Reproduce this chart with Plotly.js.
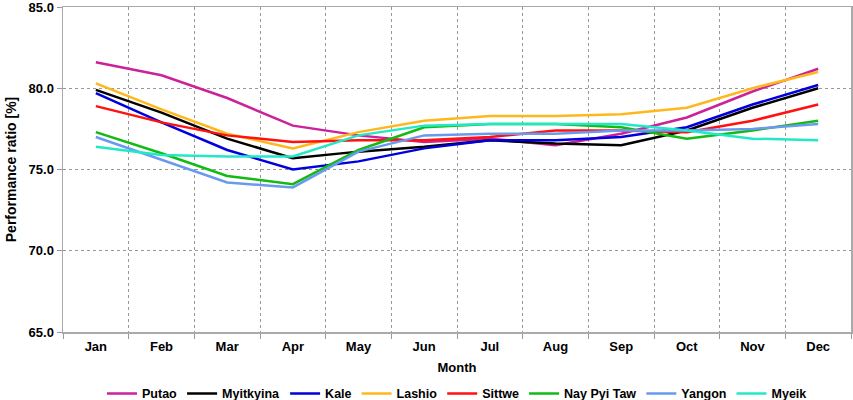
<!DOCTYPE html>
<html>
<head>
<meta charset="utf-8">
<script src="https://cdn.plot.ly/plotly-3.0.1.min.js"></script>
<style>
  html, body { margin: 0; padding: 0; background: #fff; }
  #chart { width: 853px; height: 400px; }
</style>
</head>
<body>
<div id="chart"></div>
<script>
var months = ["Jan", "Feb", "Mar", "Apr", "May", "Jun", "Jul", "Aug", "Sep", "Oct", "Nov", "Dec"];

var putao     = [81.6, 80.8, 79.4, 77.7, 77.1, 76.7, 76.9, 76.5, 77.2, 78.2, 79.8, 81.2];
var myitkyina = [79.9, 78.5, 76.9, 75.7, 76.1, 76.4, 76.8, 76.6, 76.5, 77.4, 78.8, 80.0];
var kale      = [79.7, 77.9, 76.2, 75.0, 75.5, 76.3, 76.8, 76.8, 77.0, 77.6, 79.0, 80.2];
var lashio    = [80.3, 78.7, 77.2, 76.3, 77.3, 78.0, 78.3, 78.3, 78.4, 78.8, 80.0, 81.0];
var sittwe    = [78.9, 77.9, 77.1, 76.7, 76.8, 76.8, 77.0, 77.4, 77.4, 77.3, 78.0, 79.0];
var naypyitaw = [77.3, 76.0, 74.6, 74.1, 76.2, 77.6, 77.8, 77.8, 77.6, 76.9, 77.4, 78.0];
var yangon    = [77.0, 75.6, 74.2, 73.9, 76.1, 77.1, 77.2, 77.2, 77.4, 77.4, 77.5, 77.8];
var myeik     = [76.4, 75.9, 75.8, 75.8, 77.1, 77.7, 77.8, 77.8, 77.8, 77.4, 76.9, 76.8];

var names  = ["Putao", "Myitkyina", "Kale", "Lashio", "Sittwe", "Nay Pyi Taw", "Yangon", "Myeik"];
var series = [putao, myitkyina, kale, lashio, sittwe, naypyitaw, yangon, myeik];
var colors = ["#CC2299", "#000000", "#0000DD", "#FFB81C", "#FF1111", "#11BB11", "#6A9AEE", "#22E8C8"];

var traces = [];
for (var i = 0; i < series.length; i++) {
  traces.push({
    x: months,
    y: series[i],
    name: names[i],
    type: "scatter",
    mode: "lines",
    line: { color: colors[i], width: 2.5 }
  });
}

var fam = "Liberation Sans, Arial, sans-serif";
var tickFont = { family: fam, size: 13, color: "#000", weight: "bold" };
var legFont = { family: fam, size: 12.5, color: "#000", weight: "bold" };

var layout = {
  width: 853,
  height: 400,
  margin: { l: 63, r: 2, t: 7, b: 68, autoexpand: false },
  paper_bgcolor: "#fff",
  plot_bgcolor: "#fff",
  font: tickFont,
  showlegend: true,
  legend: {
    orientation: "h",
    x: 0.5,
    xanchor: "center",
    y: -0.19,
    yanchor: "middle",
    font: legFont,
    itemwidth: 30,
    tracegroupgap: 0
  },
  xaxis: {
    type: "category",
    range: [-0.5, 11.5],
    automargin: false,
    tickson: "boundaries",
    ticks: "outside",
    ticklen: 5,
    tickcolor: "#999",
    ticklabelstandoff: 2,
    showgrid: true,
    gridcolor: "#999",
    griddash: "3px,3px",
    gridwidth: 1,
    showline: true,
    linecolor: "#aaa",
    linewidth: 1.5,
    mirror: true,
    tickfont: tickFont,
    title: { text: "Month", font: tickFont, standoff: 10 }
  },
  yaxis: {
    range: [65, 85],
    automargin: false,
    dtick: 5,
    tick0: 65,
    tickformat: ".1f",
    ticklabeloverflow: "allow",
    ticks: "outside",
    ticklen: 5,
    tickcolor: "#999",
    showgrid: true,
    gridcolor: "#999",
    griddash: "3px,3px",
    gridwidth: 1,
    zeroline: false,
    showline: true,
    linecolor: "#aaa",
    linewidth: 1.5,
    mirror: true,
    tickfont: tickFont,
    title: { text: "Performance ratio [%]", font: { family: fam, size: 14, color: "#000", weight: "bold" }, standoff: 8 }
  }
};

Plotly.newPlot("chart", traces, layout, { displayModeBar: false, staticPlot: true });
</script>
</body>
</html>
